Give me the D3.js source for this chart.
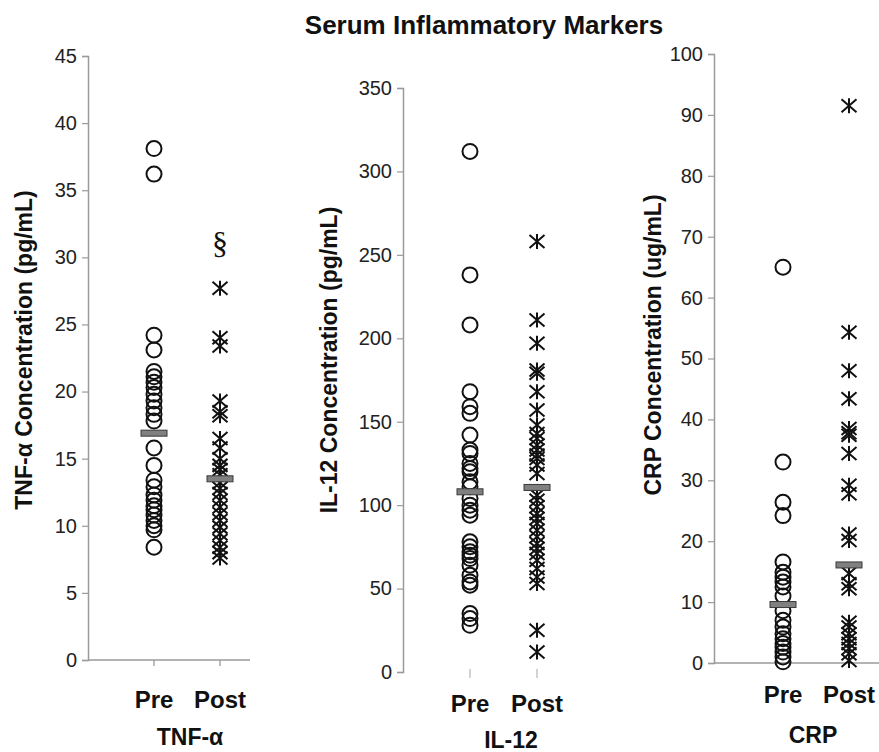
<!DOCTYPE html>
<html>
<head>
<meta charset="utf-8">
<script src="https://cdn.jsdelivr.net/npm/d3@7"></script>
<style>
  html, body { margin: 0; padding: 0; background: #fff; }
  svg { display: block; font-family: "Liberation Sans", Arial, sans-serif; }
</style>
</head>
<body>
<svg id="chart" width="879" height="752"></svg>
<script>
// ---------------- DATA ----------------
const chartTitle = "Serum Inflammatory Markers";
const categories = ["Pre", "Post"];

const tnfPre  = [38.1, 36.2, 24.2, 23.1, 21.5, 21.1, 20.7, 20.3, 19.8, 19.3, 18.8, 18.3, 17.8,
                 15.8, 14.5, 13.4, 12.9, 12.3, 11.9, 11.5, 11.2, 10.8, 10.4, 10.0, 9.7, 8.4];
const tnfPost = [27.7, 24.0, 23.4, 19.3, 18.5, 18.2, 16.5, 15.8, 15.0, 14.5, 14.2, 13.8, 13.2,
                 12.8, 12.4, 11.9, 11.4, 10.9, 10.4, 9.9, 9.4, 8.9, 8.4, 8.0, 7.6];
const tnfMedians = [16.9, 13.5];
const tnfAnnotations = [{ category: "Post", value: 31.1, symbol: "§" }];
const tnfTicks = [0, 5, 10, 15, 20, 25, 30, 35, 40, 45];

const il12Pre  = [312, 238, 208, 168, 159, 155, 142, 133, 131, 125, 122, 120, 114, 111, 104, 100,
                  97, 94, 78, 75, 72, 70, 68, 64, 58, 54, 52, 35, 32, 28];
const il12Post = [258, 211, 197, 181, 179, 168, 157, 148, 143, 140, 136, 133, 130, 128, 124, 119,
                  106, 103, 99, 95, 92, 89, 85, 81, 77, 74, 71, 67, 62, 57, 53, 25, 12];
const il12Medians = [108, 110.6];
const il12Ticks = [0, 50, 100, 150, 200, 250, 300, 350];

const crpPre  = [65, 33, 26.4, 24.2, 16.6, 14.9, 14.1, 13.3, 12.5, 11.0, 8.6, 7.0, 5.9, 4.8,
                 4.0, 3.2, 2.6, 1.8, 1.0, 0.2];
const crpPost = [91.5, 54.3, 48.0, 43.4, 38.5, 37.8, 37.4, 34.4, 29.2, 27.8, 21.2, 20.1, 14.7,
                 13.0, 12.2, 6.7, 5.9, 4.8, 4.0, 3.2, 2.4, 1.5, 0.4];
const crpMedians = [9.6, 16.1];
const crpTicks = [0, 10, 20, 30, 40, 50, 60, 70, 80, 90, 100];

// ---------------- LAYOUT ----------------
const panels = [
  { name: "TNF-α", yLabel: "TNF-α Concentration (pg/mL)", pre: tnfPre, post: tnfPost,
    medians: tnfMedians, ticks: tnfTicks, annotations: tnfAnnotations,
    axisX: 88, yTop: 56, yBottom: 660, xRange: [154, 220], xAxisEnd: 250, xAxisLine: true, xTicks: true,
    yLabelX: 32, yLabelY: 350, catY: 708, nameX: 190, nameY: 745 },
  { name: "IL-12", yLabel: "IL-12 Concentration (pg/mL)", pre: il12Pre, post: il12Post,
    medians: il12Medians, ticks: il12Ticks, annotations: [],
    axisX: 403, yTop: 88, yBottom: 672, xRange: [470, 537], xAxisEnd: 570, xAxisLine: false, xTicks: true,
    yLabelX: 337, yLabelY: 360, catY: 712, nameX: 511, nameY: 748 },
  { name: "CRP", yLabel: "CRP Concentration (ug/mL)", pre: crpPre, post: crpPost,
    medians: crpMedians, ticks: crpTicks, annotations: [],
    axisX: 714, yTop: 54, yBottom: 663, xRange: [783, 849], xAxisEnd: 879, xAxisLine: true, xTicks: false,
    yLabelX: 661, yLabelY: 345, catY: 703, nameX: 813, nameY: 743 }
];

const axisColor = "#9a9a9a";
const textColor = "#222";

const svg = d3.select("#chart");

svg.append("text")
  .attr("x", 484).attr("y", 34)
  .attr("text-anchor", "middle")
  .attr("font-size", 26).attr("font-weight", "bold")
  .attr("fill", "#111")
  .text(chartTitle);

function starPath(cx, cy) {
  const w = 7.5, h = 6.5;
  return `M${cx - w},${cy - h}L${cx + w},${cy + h}M${cx - w},${cy + h}L${cx + w},${cy - h}` +
         `M${cx},${cy - h - 1}L${cx},${cy + h + 1}`;
}

panels.forEach(p => {
  const g = svg.append("g");
  const y = d3.scaleLinear().domain([p.ticks[0], p.ticks[p.ticks.length - 1]]).range([p.yBottom, p.yTop]);
  const x = d3.scalePoint().domain(categories).range(p.xRange);

  // y axis
  const yAxis = d3.axisLeft(y).tickValues(p.ticks).tickSize(6).tickPadding(5).tickFormat(d3.format("d"));
  const ya = g.append("g").attr("transform", `translate(${p.axisX},0)`).call(yAxis);
  ya.select(".domain").attr("stroke", axisColor).attr("stroke-width", 1.5);
  ya.selectAll(".tick line").attr("stroke", axisColor).attr("stroke-width", 1.2);
  ya.selectAll(".tick text").attr("fill", textColor).attr("font-size", 20)
    .attr("font-family", "Liberation Sans, Arial, sans-serif");

  // x axis
  if (p.xAxisLine) {
    g.append("line")
      .attr("x1", p.axisX).attr("x2", p.xAxisEnd)
      .attr("y1", y(0)).attr("y2", y(0))
      .attr("stroke", axisColor).attr("stroke-width", 1.5);
  }
  if (p.xTicks) {
    g.selectAll(".xtick").data(categories).enter().append("line")
      .attr("x1", d => x(d)).attr("x2", d => x(d))
      .attr("y1", y(0) + (p.xAxisLine ? 0 : -3)).attr("y2", y(0) + 6)
      .attr("stroke", p.xAxisLine ? axisColor : "#bbb").attr("stroke-width", 1.3);
  }

  // category labels
  g.selectAll(".cat").data(categories).enter().append("text")
    .attr("x", d => x(d)).attr("y", p.catY)
    .attr("text-anchor", "middle")
    .attr("font-size", 24).attr("font-weight", "bold").attr("fill", "#111")
    .text(d => d);

  g.append("text")
    .attr("x", p.nameX).attr("y", p.nameY)
    .attr("text-anchor", "middle")
    .attr("font-size", 23).attr("font-weight", "bold").attr("fill", "#111")
    .text(p.name);

  // y label
  g.append("text")
    .attr("transform", `translate(${p.yLabelX},${p.yLabelY}) rotate(-90)`)
    .attr("text-anchor", "middle")
    .attr("font-size", 23).attr("font-weight", "bold").attr("fill", "#111")
    .text(p.yLabel);

  // pre circles
  g.selectAll(".pre").data(p.pre).enter().append("circle")
    .attr("cx", x("Pre")).attr("cy", d => y(d)).attr("r", 7.5)
    .attr("fill", "none").attr("stroke", "#111").attr("stroke-width", 2);

  // post stars
  g.selectAll(".post").data(p.post).enter().append("path")
    .attr("d", d => starPath(x("Post"), y(d)))
    .attr("fill", "none").attr("stroke", "#111").attr("stroke-width", 2);

  // medians
  g.selectAll(".med").data(p.medians).enter().append("rect")
    .attr("x", (d, i) => x(categories[i]) - 13)
    .attr("y", d => y(d) - 3)
    .attr("width", 26).attr("height", 6)
    .attr("fill", "#808080").attr("stroke", "#3a3a3a").attr("stroke-width", 1);

  // annotations
  g.selectAll(".ann").data(p.annotations).enter().append("text")
    .attr("x", d => x(d.category)).attr("y", d => y(d.value))
    .attr("text-anchor", "middle").attr("dominant-baseline", "central")
    .attr("font-family", "Liberation Serif, serif")
    .attr("font-size", 32).attr("fill", "#111")
    .text(d => d.symbol);
});
</script>
</body>
</html>
